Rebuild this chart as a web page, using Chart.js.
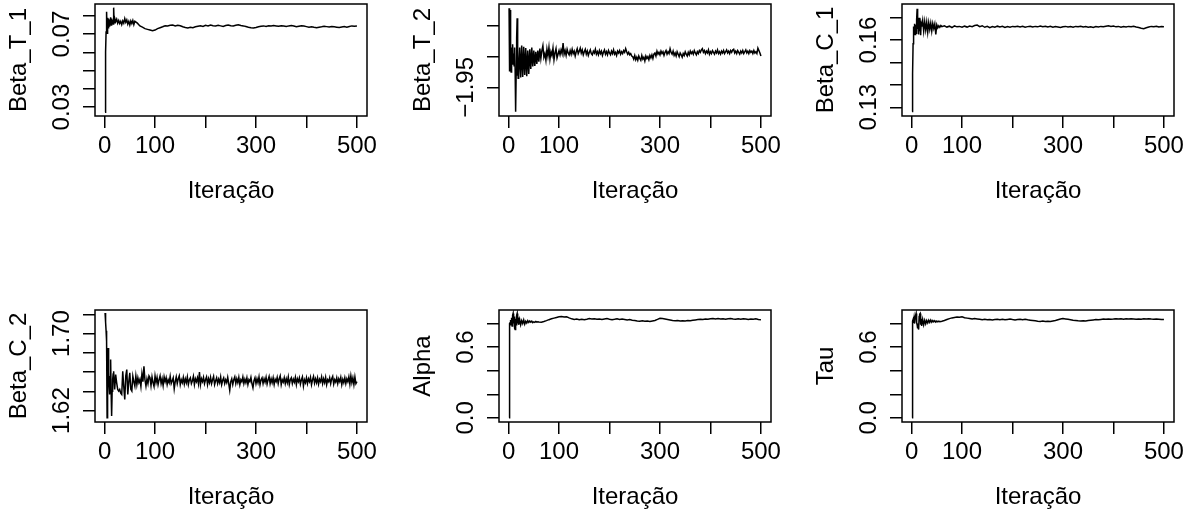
<!DOCTYPE html>
<html><head><meta charset="utf-8">
<script src="https://cdn.jsdelivr.net/npm/chart.js@4"></script>
<style>
html,body{margin:0;padding:0;background:#fff;overflow:hidden;width:1197px;height:513px;position:relative;}
canvas{position:absolute;}
</style></head><body>
<script>
// ---------------- DATA ----------------
const iteracoes = [
  1,2,3,4,5,6,7,8,9,10,11,12,13,14,15,16,17,18,19,20,
  22,24,26,28,30,32,34,36,38,40,42,44,46,48,50,52,54,56,58,60,
  65,70,75,80,85,90,95,100,105,110,115,120,125,130,135,140,145,150,155,160,
  165,170,175,180,185,190,195,200,205,210,215,220,225,230,235,240,245,250,255,260,
  265,270,275,280,285,290,295,300,305,310,315,320,325,330,335,340,345,350,355,360,
  365,370,375,380,385,390,395,400,405,410,415,420,425,430,435,440,445,450,455,460,
  465,470,475,480,485,490,495,500
];

const iteracoesDensas = [
  1,2,3,4,5,6,7,8,9,10,11,12,13,14,15,16,17,18,19,20,
  22,24,26,28,30,32,34,36,38,40,42,44,46,48,50,52,54,56,58,60,
  62,64,66,68,70,72,74,76,78,80,82,84,86,88,90,92,94,96,98,100,
  102,104,106,108,110,112,114,116,118,120,122,124,126,128,130,132,134,136,138,140,
  142,144,146,148,150,152,154,156,158,160,162,164,166,168,170,172,174,176,178,180,
  182,184,186,188,190,192,194,196,198,200,202,204,206,208,210,212,214,216,218,220,
  222,224,226,228,230,232,234,236,238,240,242,244,246,248,250,252,254,256,258,260,
  262,264,266,268,270,272,274,276,278,280,282,284,286,288,290,292,294,296,298,300,
  302,304,306,308,310,312,314,316,318,320,322,324,326,328,330,332,334,336,338,340,
  342,344,346,348,350,352,354,356,358,360,362,364,366,368,370,372,374,376,378,380,
  382,384,386,388,390,392,394,396,398,400,402,404,406,408,410,412,414,416,418,420,
  422,424,426,428,430,432,434,436,438,440,442,444,446,448,450,452,454,456,458,460,
  462,464,466,468,470,472,474,476,478,480,482,484,486,488,490,492,494,496,498,500
];

const betaT1 = [
  0.0272,0.0600,0.0712,0.0822,0.0705,0.0790,0.0735,0.0785,0.0745,0.0780,0.0760,0.0792,0.0750,0.0785,0.0762,0.0778,0.0755,0.0845,0.0762,0.0788,
  0.0768,0.0782,0.0760,0.0775,0.0758,0.0770,0.0752,0.0772,0.0760,0.0785,0.0765,0.0778,0.0755,0.0770,0.0750,0.0772,0.0758,0.0775,0.0752,0.0770,
  0.0760,0.0745,0.0738,0.0730,0.0726,0.0722,0.0718,0.0722,0.0730,0.0735,0.0740,0.0746,0.0744,0.0748,0.0750,0.0745,0.0749,0.0746,0.0740,0.0736,
  0.0734,0.0737,0.0735,0.0740,0.0743,0.0746,0.0742,0.0748,0.0745,0.0750,0.0746,0.0744,0.0748,0.0745,0.0742,0.0747,0.0750,0.0746,0.0744,0.0748,
  0.0751,0.0747,0.0745,0.0742,0.0738,0.0735,0.0733,0.0736,0.0740,0.0743,0.0745,0.0742,0.0746,0.0744,0.0747,0.0745,0.0743,0.0746,0.0744,0.0742,
  0.0745,0.0747,0.0744,0.0740,0.0743,0.0746,0.0744,0.0741,0.0738,0.0740,0.0737,0.0735,0.0738,0.0740,0.0743,0.0741,0.0739,0.0742,0.0740,0.0738,
  0.0736,0.0739,0.0741,0.0738,0.0742,0.0745,0.0743,0.0744
];

const betaT2 = [
  -1.8213,-1.9240,-1.8240,-1.9100,-1.9250,-1.8850,-1.9120,-1.8800,-1.9050,-1.8950,-1.9150,-1.8850,-1.9200,-1.9896,-1.9300,-1.8700,-1.8376,-1.8900,-1.9350,-1.9300,
  -1.8850,-1.9340,-1.8820,-1.9330,-1.8840,-1.9300,-1.8860,-1.9320,-1.8900,-1.9280,-1.8880,-1.9200,-1.8850,-1.9160,-1.8900,-1.9150,-1.8920,-1.9120,-1.8900,-1.9080,
  -1.8870,-1.9030,-1.8900,-1.8820,-1.9010,-1.8950,-1.9060,-1.8880,-1.8990,-1.8850,
  -1.9040,-1.8920,-1.8980,-1.8860,-1.9050,-1.8940,-1.8870,-1.9020,-1.8960,-1.8900,
  -1.8970,-1.8890,-1.8950,-1.8780,-1.8960,-1.8900,-1.8980,-1.8880,-1.8940,-1.8970,
  -1.8900,-1.8960,-1.8880,-1.8950,-1.8910,-1.8990,-1.8920,-1.8870,-1.8950,-1.8910,
  -1.8860,-1.8940,-1.8890,-1.8970,-1.8920,-1.8880,-1.8960,-1.8910,-1.8980,-1.8930,
  -1.8890,-1.8950,-1.8970,-1.8910,-1.8940,-1.8880,-1.8960,-1.8920,-1.8970,-1.8900,
  -1.8950,-1.8910,-1.8980,-1.8930,-1.8890,-1.8960,-1.8920,-1.8970,-1.8900,-1.8940,
  -1.8970,-1.8910,-1.8950,-1.8890,-1.8960,-1.8930,-1.8980,-1.8910,-1.8940,-1.8900,
  -1.8960,-1.8920,-1.8950,-1.8900,-1.8930,-1.8870,-1.8920,-1.8960,-1.8930,-1.8970,
  -1.8950,-1.8990,-1.9000,-1.9040,-1.8980,-1.9050,-1.9010,-1.9060,-1.8990,-1.9030,
  -1.9060,-1.8980,-1.9040,-1.9010,-1.9070,-1.8990,-1.9030,-1.9000,-1.9050,-1.8980,
  -1.9020,-1.8970,-1.9030,-1.8960,-1.8940,-1.8990,-1.8910,-1.8960,-1.8930,-1.8970,
  -1.8910,-1.8950,-1.8920,-1.8980,-1.8930,-1.8900,-1.8960,-1.8920,-1.8950,-1.8870,
  -1.8930,-1.8960,-1.8910,-1.8980,-1.8940,-1.8990,-1.8920,-1.8960,-1.9000,-1.8940,
  -1.8970,-1.9010,-1.8950,-1.8980,-1.8920,-1.8960,-1.8990,-1.8930,-1.8970,-1.8910,
  -1.8950,-1.8920,-1.8960,-1.8900,-1.8940,-1.8970,-1.8920,-1.8950,-1.8900,-1.8930,
  -1.8890,-1.8870,-1.8930,-1.8900,-1.8950,-1.8910,-1.8940,-1.8890,-1.8960,-1.8920,
  -1.8950,-1.8900,-1.8930,-1.8960,-1.8910,-1.8940,-1.8890,-1.8950,-1.8920,-1.8960,
  -1.8910,-1.8940,-1.8900,-1.8950,-1.8920,-1.8890,-1.8940,-1.8910,-1.8950,-1.8900,
  -1.8930,-1.8890,-1.8880,-1.8940,-1.8910,-1.8950,-1.8900,-1.8930,-1.8960,-1.8910,
  -1.8940,-1.8900,-1.8950,-1.8920,-1.8890,-1.8940,-1.8910,-1.8950,-1.8900,-1.8930,
  -1.8910,-1.8950,-1.8900,-1.8940,-1.8920,-1.8950,-1.8860,-1.8900,-1.8940,-1.8990
];

const betaC1 = [
  0.1281,0.1450,0.1584,0.1660,0.1640,0.1673,0.1625,0.1668,0.1630,0.1690,0.1740,0.1650,0.1680,0.1625,0.1700,0.1640,0.1685,0.1622,0.1672,0.1660,
  0.1688,0.1640,0.1682,0.1645,0.1680,0.1635,0.1678,0.1648,0.1676,0.1640,0.1674,0.1652,0.1672,0.1625,0.1668,0.1655,0.1664,0.1657,0.1665,0.1660,
  0.1664,0.1658,0.1662,0.1656,0.1663,0.1659,0.1661,0.1657,0.1662,0.1658,0.1663,0.1660,0.1665,0.1667,0.1660,0.1664,0.1657,0.1661,0.1655,0.1660,
  0.1657,0.1662,0.1658,0.1661,0.1656,0.1660,0.1657,0.1661,0.1659,0.1662,0.1658,0.1661,0.1657,0.1660,0.1662,0.1658,0.1661,0.1659,0.1663,0.1660,
  0.1662,0.1658,0.1661,0.1657,0.1660,0.1658,0.1656,0.1659,0.1661,0.1658,0.1660,0.1657,0.1661,0.1659,0.1662,0.1658,0.1660,0.1657,0.1659,0.1656,
  0.1660,0.1658,0.1661,0.1659,0.1662,0.1664,0.1661,0.1663,0.1659,0.1661,0.1657,0.1660,0.1658,0.1661,0.1659,0.1662,0.1658,0.1656,0.1653,0.1651,
  0.1655,0.1658,0.1661,0.1659,0.1662,0.1658,0.1660,0.1659
];

const betaC2 = [
  1.7213,1.7120,1.7030,1.6920,1.6126,1.6700,1.6850,1.6600,1.6450,1.6367,1.6550,1.6730,1.6400,1.6143,1.6400,1.6523,1.6580,1.6609,1.6500,1.6419,
  1.6574,1.6488,1.6420,1.6402,1.6419,1.6380,1.6367,1.6609,1.6450,1.6316,1.6560,1.6626,1.6367,1.6500,1.6592,1.6420,1.6402,1.6557,1.6500,1.6454,
  1.6560,1.6470,1.6540,1.6490,1.6523,1.6450,1.6580,1.6500,1.6661,1.6520,
  1.6454,1.6530,1.6480,1.6560,1.6540,1.6460,1.6550,1.6490,1.6450,1.6560,
  1.6490,1.6545,1.6470,1.6520,1.6560,1.6480,1.6530,1.6460,1.6550,1.6500,
  1.6540,1.6470,1.6520,1.6490,1.6555,1.6480,1.6510,1.6540,1.6426,1.6500,
  1.6550,1.6480,1.6530,1.6560,1.6470,1.6520,1.6490,1.6545,1.6475,1.6530,
  1.6490,1.6550,1.6470,1.6520,1.6540,1.6480,1.6510,1.6555,1.6470,1.6530,
  1.6500,1.6540,1.6480,1.6600,1.6470,1.6530,1.6500,1.6545,1.6480,1.6520,
  1.6550,1.6470,1.6530,1.6490,1.6545,1.6480,1.6520,1.6555,1.6470,1.6510,
  1.6540,1.6480,1.6525,1.6490,1.6550,1.6470,1.6515,1.6540,1.6480,1.6520,
  1.6490,1.6545,1.6480,1.6410,1.6500,1.6530,1.6470,1.6520,1.6550,1.6480,
  1.6530,1.6490,1.6545,1.6470,1.6520,1.6500,1.6550,1.6480,1.6525,1.6490,
  1.6540,1.6470,1.6520,1.6500,1.6545,1.6480,1.6436,1.6510,1.6540,1.6480,
  1.6530,1.6490,1.6550,1.6470,1.6520,1.6540,1.6480,1.6530,1.6495,1.6545,
  1.6475,1.6520,1.6555,1.6480,1.6530,1.6490,1.6540,1.6470,1.6525,1.6500,
  1.6545,1.6480,1.6530,1.6560,1.6470,1.6520,1.6495,1.6540,1.6480,1.6530,
  1.6490,1.6550,1.6470,1.6520,1.6540,1.6480,1.6525,1.6495,1.6545,1.6470,
  1.6530,1.6500,1.6540,1.6475,1.6520,1.6550,1.6455,1.6520,1.6490,1.6540,
  1.6480,1.6530,1.6500,1.6545,1.6470,1.6520,1.6555,1.6485,1.6530,1.6490,
  1.6540,1.6475,1.6525,1.6500,1.6550,1.6480,1.6530,1.6490,1.6545,1.6470,
  1.6520,1.6500,1.6540,1.6480,1.6530,1.6555,1.6475,1.6520,1.6495,1.6540,
  1.6480,1.6530,1.6500,1.6545,1.6470,1.6525,1.6490,1.6540,1.6480,1.6530,
  1.6500,1.6550,1.6475,1.6560,1.6490,1.6540,1.6470,1.6550,1.6480,1.6500
];

const alpha = [
  0.000,0.800,0.806,0.830,0.790,0.850,0.780,0.870,0.886,0.800,0.860,0.760,0.749,0.840,0.790,0.870,0.886,0.800,0.850,0.790,
  0.834,0.790,0.825,0.800,0.830,0.795,0.820,0.805,0.825,0.810,0.822,0.812,0.820,0.808,0.815,0.810,0.818,0.812,0.816,0.814,
  0.812,0.818,0.825,0.833,0.840,0.846,0.852,0.857,0.860,0.855,0.858,0.848,0.840,0.835,0.838,0.832,0.836,0.833,0.837,0.842,
  0.838,0.841,0.836,0.839,0.834,0.838,0.842,0.837,0.833,0.836,0.840,0.835,0.838,0.834,0.830,0.834,0.828,0.825,0.822,0.820,
  0.823,0.819,0.821,0.818,0.822,0.826,0.835,0.845,0.842,0.838,0.834,0.830,0.826,0.823,0.826,0.821,0.824,0.822,0.826,0.824,
  0.828,0.831,0.834,0.837,0.835,0.839,0.836,0.840,0.843,0.839,0.842,0.838,0.841,0.837,0.840,0.843,0.839,0.836,0.840,0.837,
  0.841,0.838,0.835,0.839,0.836,0.840,0.834,0.833
];

const tau = [
  0.000,0.820,0.834,0.806,0.845,0.800,0.860,0.870,0.886,0.810,0.790,0.760,0.800,0.749,0.860,0.880,0.886,0.790,0.840,0.780,
  0.835,0.790,0.828,0.798,0.826,0.805,0.828,0.810,0.830,0.812,0.826,0.815,0.824,0.812,0.822,0.815,0.820,0.816,0.818,0.820,
  0.826,0.834,0.842,0.848,0.852,0.856,0.853,0.857,0.850,0.846,0.842,0.838,0.842,0.839,0.836,0.833,0.836,0.832,0.835,0.831,
  0.834,0.837,0.833,0.836,0.832,0.835,0.838,0.834,0.831,0.834,0.837,0.833,0.836,0.832,0.829,0.826,0.823,0.820,0.818,0.821,
  0.817,0.820,0.818,0.822,0.826,0.832,0.838,0.842,0.839,0.836,0.833,0.829,0.826,0.823,0.821,0.824,0.822,0.825,0.828,0.831,
  0.834,0.832,0.835,0.838,0.836,0.839,0.836,0.838,0.841,0.838,0.840,0.837,0.840,0.838,0.841,0.839,0.836,0.839,0.837,0.840,
  0.838,0.841,0.838,0.836,0.839,0.837,0.835,0.834
];

const xTicks = [0, 100, 200, 300, 400, 500];
const xTickLabels = ['0', '100', '', '300', '', '500'];

const yTicksBetaT1 = [0.03, 0.04, 0.05, 0.06, 0.07, 0.08];
const yLabelsBetaT1 = ['0.03', '', '', '', '0.07', ''];
const yTicksBetaT2 = [-1.95, -1.90, -1.85];
const yLabelsBetaT2 = ['\u22121.95', '', ''];
const yTicksBetaC1 = [0.13, 0.14, 0.15, 0.16, 0.17];
const yLabelsBetaC1 = ['0.13', '', '', '0.16', ''];
const yTicksBetaC2 = [1.62, 1.64, 1.66, 1.68, 1.70, 1.72];
const yLabelsBetaC2 = ['1.62', '', '', '', '1.70', ''];
const yTicksUnit = [0.0, 0.2, 0.4, 0.6, 0.8];
const yLabelsUnit = ['0.0', '', '', '0.6', ''];

const xLimits = [-18.96, 519.96];
const yLimBetaT1 = [0.0251, 0.0865];
const yLimBetaT2 = [-1.9966, -1.8143];
const yLimBetaC1 = [0.1261, 0.1761];
const yLimBetaC2 = [1.6081, 1.7245];
const yLimUnit = [-0.0352, 0.915];

// ---------------- LAYOUT ----------------
const panels = [
  {name: 'Beta_T_1', xs: iteracoes,       values: betaT1, yt: yTicksBetaT1, yl: yLabelsBetaT1, lim: yLimBetaT1, bx: 95,  by: 4},
  {name: 'Beta_T_2', xs: iteracoesDensas, values: betaT2, yt: yTicksBetaT2, yl: yLabelsBetaT2, lim: yLimBetaT2, bx: 499, by: 4},
  {name: 'Beta_C_1', xs: iteracoes,       values: betaC1, yt: yTicksBetaC1, yl: yLabelsBetaC1, lim: yLimBetaC1, bx: 902, by: 4},
  {name: 'Beta_C_2', xs: iteracoesDensas, values: betaC2, yt: yTicksBetaC2, yl: yLabelsBetaC2, lim: yLimBetaC2, bx: 95,  by: 310},
  {name: 'Alpha',    xs: iteracoes,       values: alpha,  yt: yTicksUnit,   yl: yLabelsUnit,   lim: yLimUnit,   bx: 499, by: 310},
  {name: 'Tau',      xs: iteracoes,       values: tau,    yt: yTicksUnit,   yl: yLabelsUnit,   lim: yLimUnit,   bx: 902, by: 310}
];

const BOX_W = 272, BOX_H = 112;
const LEFT_SPACE = 95, TOP_SPACE = 4, RIGHT_SPACE = 20, BOTTOM_SPACE = 95;
const FONT_SIZE = 24;
const FONT_FAMILY = '"Liberation Sans", Arial, Helvetica, sans-serif';
const TICK_LEN = 12;
const Y_LABEL_MID = 33;
const LINE_W = 1.5;

const measureCtx = document.createElement('canvas').getContext('2d');
measureCtx.font = FONT_SIZE + 'px ' + FONT_FAMILY;

const boxPlugin = {
  id: 'rbox',
  afterDraw(chart) {
    const {ctx, chartArea: a} = chart;
    ctx.save();
    ctx.strokeStyle = '#000';
    ctx.lineWidth = LINE_W;
    ctx.strokeRect(a.left, a.top, a.right - a.left, a.bottom - a.top);
    ctx.restore();
  }
};

panels.forEach(p => {
  const cv = document.createElement('canvas');
  const W = LEFT_SPACE + BOX_W + RIGHT_SPACE;
  const H = TOP_SPACE + BOX_H + BOTTOM_SPACE;
  cv.width = W; cv.height = H;
  cv.style.width = W + 'px'; cv.style.height = H + 'px';
  cv.style.left = (p.bx - LEFT_SPACE) + 'px';
  cv.style.top = (p.by - TOP_SPACE) + 'px';
  document.body.appendChild(cv);

  const n = Math.min(p.xs.length, p.values.length);
  const pts = [];
  for (let i = 0; i < n; i++) pts.push({x: p.xs[i], y: p.values[i]});

  const widest = Math.max(...p.yl.map(l => measureCtx.measureText(l).width));
  const yPad = (Y_LABEL_MID - TICK_LEN) - widest / 2;

  const font = {family: FONT_FAMILY, size: FONT_SIZE};

  new Chart(cv, {
    type: 'line',
    data: {datasets: [{data: pts, borderColor: '#000', borderWidth: LINE_W, pointRadius: 0, tension: 0, fill: false}]},
    plugins: [boxPlugin],
    options: {
      responsive: false, animation: false, devicePixelRatio: 1,
      layout: {padding: {left: 0, top: TOP_SPACE, right: RIGHT_SPACE, bottom: 0}},
      plugins: {legend: {display: false}, tooltip: {enabled: false}},
      scales: {
        x: {
          type: 'linear', min: xLimits[0], max: xLimits[1],
          afterBuildTicks: s => { s.ticks = xTicks.map(v => ({value: v})); },
          afterFit: s => { s.height = BOTTOM_SPACE; s.paddingLeft = 0; s.paddingRight = 0; s.paddingTop = 0; s.paddingBottom = 0; },
          ticks: {autoSkip: false, maxRotation: 0, minRotation: 0, color: '#000', font, padding: 4,
                  callback: (v, i) => xTickLabels[i]},
          grid: {drawOnChartArea: false, drawTicks: true, tickLength: TICK_LEN, tickWidth: LINE_W, tickColor: '#000', color: '#000', lineWidth: LINE_W},
          border: {display: false},
          title: {display: true, text: 'Iteração', color: '#000', font, padding: {top: 0, bottom: 5}}
        },
        y: {
          type: 'linear', min: p.lim[0], max: p.lim[1],
          afterBuildTicks: s => { s.ticks = p.yt.map(v => ({value: v})); },
          afterFit: s => { s.width = LEFT_SPACE; s.paddingLeft = 0; s.paddingRight = 0; s.paddingTop = 0; s.paddingBottom = 0; },
          ticks: {autoSkip: false, minRotation: 90, maxRotation: 90, crossAlign: 'center', color: '#000', font, padding: yPad,
                  callback: (v, i) => p.yl[i]},
          grid: {drawOnChartArea: false, drawTicks: true, tickLength: TICK_LEN, tickWidth: LINE_W, tickColor: '#000', color: '#000', lineWidth: LINE_W},
          border: {display: false},
          title: {display: true, text: p.name, color: '#000', font, padding: {top: 5, bottom: 0}}
        }
      }
    }
  });
});
</script>
</body></html>
